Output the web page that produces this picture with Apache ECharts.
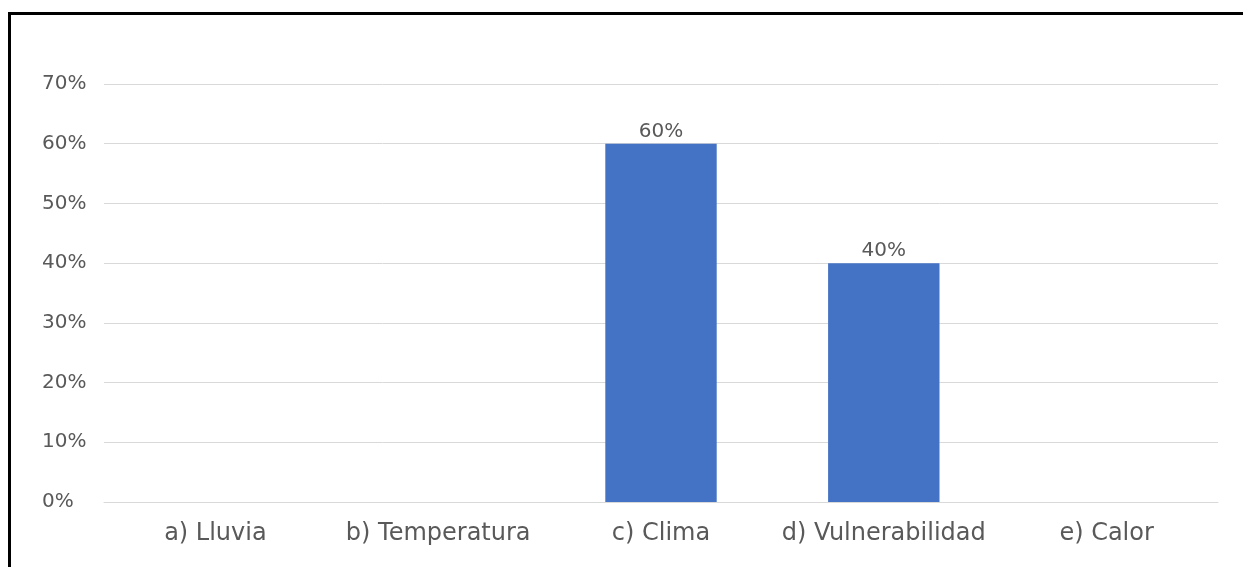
<!DOCTYPE html>
<html lang="es">

<head>
    <meta charset="UTF-8">
    <title>Gráfico</title>
    <script src="https://cdn.jsdelivr.net/npm/echarts@6/dist/echarts.min.js"></script>
    <style>
        html, body { margin: 0; padding: 0; background: #fff; }
        #chart { position: absolute; left: 0; top: 0; width: 1243px; height: 567px; }
        #frame {
            position: absolute; left: 8px; top: 12px; width: 1300px; height: 600px;
            border-top: 3px solid #000; border-left: 3px solid #000; pointer-events: none;
        }
    </style>
</head>

<body>
    <div id="chart"></div>
    <div id="frame"></div>

    <script>
        // datos
        var categorias = ['a) Lluvia', 'b) Temperatura', 'c) Clima', 'd) Vulnerabilidad', 'e) Calor'];
        var valores = [0, 0, 60, 40, 0];
        var ejeY = { min: 0, max: 70, paso: 10 };

        var myChart = echarts.init(document.getElementById('chart'));
        var fuente = 'DejaVu Sans';

        var option = {
            animation: false,
            grid: { left: 104, right: 25, top: 84, bottom: 65 },
            xAxis: {
                type: 'category',
                data: categorias,
                axisTick: { show: false },
                axisLine: { lineStyle: { color: '#d9d9d9', width: 1 } },
                axisLabel: {
                    color: '#595959', fontFamily: fuente, fontSize: 24,
                    margin: 20, interval: 0, hideOverlap: false
                }
            },
            yAxis: {
                type: 'value',
                min: ejeY.min,
                max: ejeY.max,
                interval: ejeY.paso,
                axisLine: { show: false },
                axisTick: { show: false },
                splitLine: { lineStyle: { color: '#d9d9d9', width: 1 } },
                axisLabel: {
                    color: '#595959', fontFamily: fuente, fontSize: 20,
                    align: 'left', margin: 62,
                    formatter: '{value}%'
                }
            },
            series: [{
                type: 'bar',
                data: valores.map(function (v) { return v > 0 ? v : null; }),
                barWidth: '50%',
                itemStyle: { color: '#4472c4' },
                label: {
                    show: true,
                    position: 'top',
                    distance: 2,
                    color: '#595959',
                    fontFamily: fuente,
                    fontSize: 20,
                    formatter: '{c}%'
                }
            }]
        };

        myChart.setOption(option);
    </script>
</body>

</html>
